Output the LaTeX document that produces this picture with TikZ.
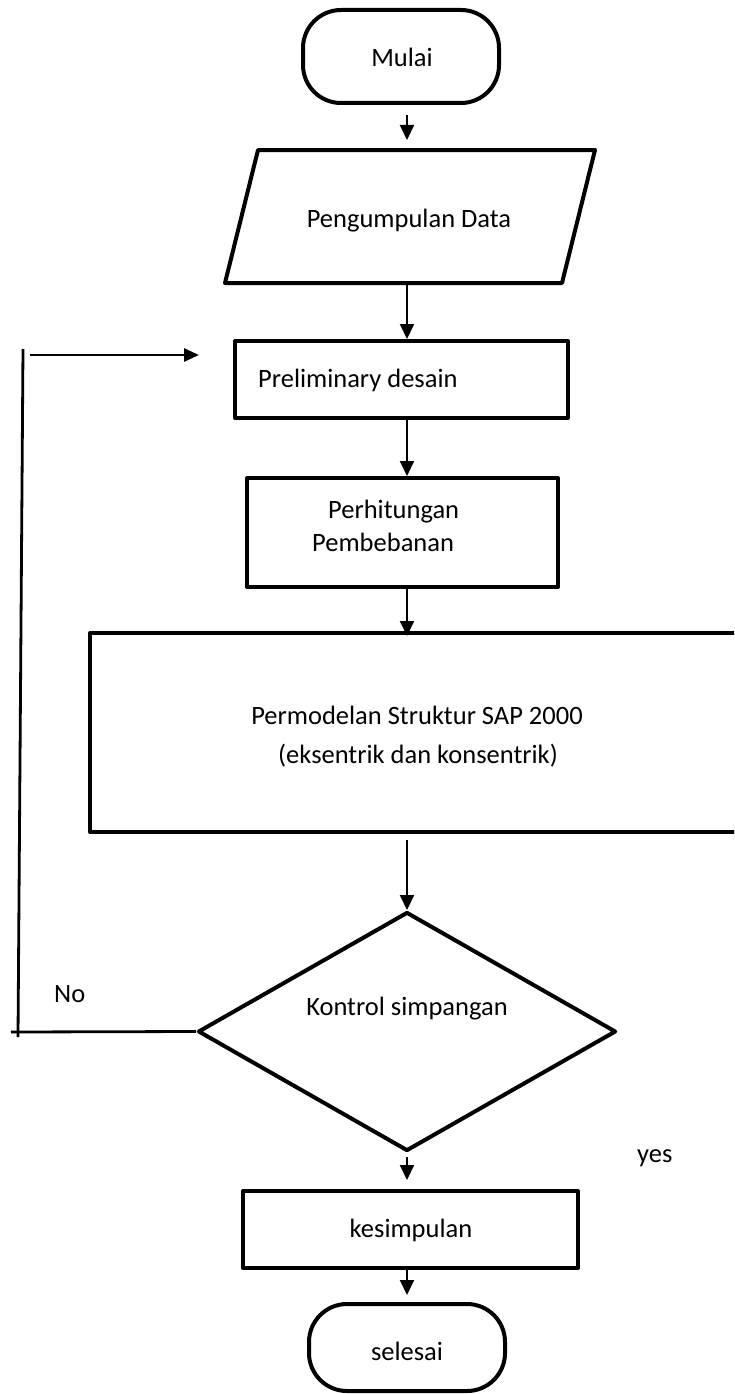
\documentclass[tikz,border=0pt]{standalone}
\usepackage{fontspec}
\setmainfont{Carlito}
\usetikzlibrary{arrows.meta,shapes.geometric}
\begin{document}
\begin{tikzpicture}[x=1pt,y=-1pt,
  shapebox/.style={draw=black,line width=4pt,line join=round,inner sep=0pt,fill=none},
  txt/.style={inner sep=0pt,font=\fontsize{26.5pt}{32pt}\selectfont},
  arr/.style={draw=black,line width=2pt,-{Triangle[length=15pt,width=14pt]}},
  fb/.style={draw=black,line width=2.8pt}]
\useasboundingbox (0,0) rectangle (734,1394);
\clip (0,0) rectangle (734,1394);
\fill[white] (0,0) rectangle (734,1394);
% shapes
\node[shapebox,rounded corners=38pt,minimum width=196pt,minimum height=93pt] (mulai) at (401,56.5) {};
\coordinate (p1) at (258,150);
\coordinate (p2) at (595,150);
\coordinate (p3) at (562,283);
\coordinate (p4) at (225,283);
\draw[line width=4pt,line join=round] (p1) -- (p2) -- (p3) -- (p4) -- cycle;
\coordinate (pdtop) at (407,150);
\coordinate (pdbot) at (407,283);
\node[shapebox,minimum width=333pt,minimum height=77pt] (pre) at (401.5,379.5) {};
\node[shapebox,minimum width=311pt,minimum height=109pt] (hit) at (402.5,532.5) {};
\node[shapebox,minimum width=655pt,minimum height=199pt] (model) at (417.5,732.5) {};
\node[shapebox,shape=diamond,minimum width=418pt,minimum height=239pt] (dec) at (407,1031.5) {};
\node[shapebox,minimum width=335pt,minimum height=77pt] (kes) at (410.5,1229.5) {};
\node[shapebox,rounded corners=38pt,minimum width=196pt,minimum height=87pt] (sel) at (407,1347.5) {};
% texts
\node[txt,anchor=base] (tmulai) at (402,67) {Mulai};
\node[txt,anchor=base] (tpd) at (409,227) {Pengumpulan Data};
\node[txt,anchor=base west] (tpre) at (258,387) {Preliminary desain};
\node[txt,anchor=base west] (thit1) at (328,518) {Perhitungan};
\node[txt,anchor=base west] (thit2) at (312,551) {Pembebanan};
\node[txt,anchor=base] (tmod1) at (417,724) {Permodelan Struktur SAP 2000};
\node[txt,anchor=base] (tmod2) at (418,763) {(eksentrik dan konsentrik)};
\node[txt,anchor=base] (tdec) at (407,1015) {Kontrol simpangan};
\node[txt,anchor=base] (tkes) at (411,1237) {kesimpulan};
\node[txt,anchor=base] (tsel) at (407,1360) {selesai};
\node[txt,anchor=base west] (tno) at (54,1002) {No};
\node[txt,anchor=base west] (tyes) at (637,1162) {yes};
% connectors
\draw[arr] ([xshift=6pt,yshift=-10pt]mulai.south) -- ([yshift=10pt]pdtop);
\draw[arr] (pdbot) -- ([xshift=5.5pt]pre.north);
\draw[arr] ([xshift=5.5pt]pre.south) -- ([xshift=4.5pt]hit.north);
\draw[arr] ([xshift=4.5pt]hit.south) -- ([xshift=-10.5pt,yshift=-5pt]model.north);
\draw[arr] ([xshift=-10.5pt,yshift=-6pt]model.south) -- (dec.north);
\draw[arr] ([yshift=-4pt]dec.south) -- ([xshift=-3.5pt,yshift=9pt]kes.north);
\draw[arr] ([xshift=-3.5pt]kes.south) -- ([yshift=7pt]sel.north);
% feedback loop
\coordinate (fbtop) at (23,349);
\coordinate (fbbot) at (18,1037);
\coordinate (fbleft) at (11,1032);
\coordinate (fbstart) at (30,355);
\coordinate (fbend) at (199,355);
\draw[fb] (dec.west) -- (fbleft);
\draw[fb] (fbbot) -- (fbtop);
\draw[fb,-{Triangle[length=15pt,width=13pt]}] (fbstart) -- (fbend);
\end{tikzpicture}
\end{document}
